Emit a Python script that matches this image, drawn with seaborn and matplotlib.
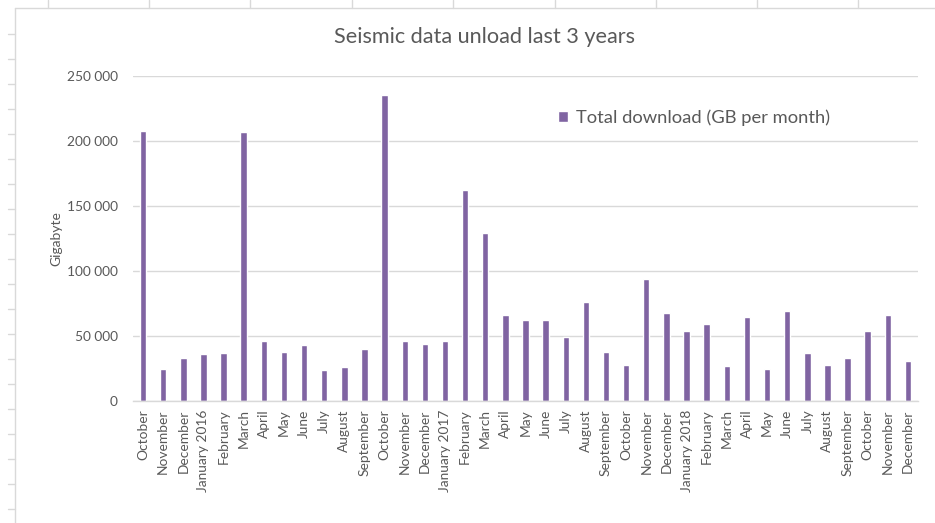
import matplotlib
matplotlib.use("Agg")
import matplotlib.pyplot as plt
from matplotlib.lines import Line2D
import seaborn as sns
import pandas as pd

months = ["October", "November", "December",
          "January 2016", "February", "March", "April", "May", "June", "July",
          "August", "September", "October", "November", "December",
          "January 2017", "February", "March", "April", "May", "June", "July",
          "August", "September", "October", "November", "December",
          "January 2018", "February", "March", "April", "May", "June", "July",
          "August", "September", "October", "November", "December"]
download_gb = [208000, 25000, 33000,
               36000, 37000, 207000, 46000, 38000, 43000, 23500,
               26500, 40000, 235000, 46500, 44000,
               46000, 162000, 129000, 66000, 62000, 62000, 49500,
               76500, 38000, 28000, 94000, 68000,
               54000, 59500, 27000, 65000, 25000, 69000, 37000,
               28000, 33000, 54000, 66000, 31000]
yticks = [0, 50000, 100000, 150000, 200000, 250000]
ytick_labels = ["0", "50 000", "100 000", "150 000", "200 000", "250 000"]
series_name = "Total download (GB per month)"
title = "Seismic data unload last 3 years"

sns.set_theme(style="white")
plt.rcParams["font.family"] = ["Lato", "DejaVu Sans"]

W, H = 935, 523
fig = plt.figure(figsize=(W / 100, H / 100), dpi=100)
fig.patch.set_facecolor("white")

# spreadsheet background decorations
grid_c = "#d9d9d9"
for xp in [48, 149, 250, 352, 453, 555, 656, 757, 858]:
    fig.add_artist(Line2D([xp / W, xp / W], [1, 1 - 8 / H], color=grid_c, lw=1))
for yp in range(34, 523, 25):
    fig.add_artist(Line2D([8 / W, 15 / W], [1 - yp / H, 1 - yp / H], color=grid_c, lw=1))
fig.add_artist(Line2D([15 / W, 15 / W], [0, 1 - 8 / H], color=grid_c, lw=1))
fig.add_artist(Line2D([15 / W, 1], [1 - 8 / H, 1 - 8 / H], color=grid_c, lw=1))

ax = fig.add_axes([133 / W, 1 - 401 / H, (918 - 133) / W, (401 - 76) / H])

keys = [f"m{i}" for i in range(len(months))]
df = pd.DataFrame({"key": keys, "value": download_gb, "series": series_name})
sns.barplot(data=df, x="key", y="value", hue="series", order=keys,
            palette=["#8064A2"], width=0.32, ax=ax, saturation=1, legend=True)

ax.set_ylim(0, 250000)
ax.set_xlim(-0.5, len(months) - 0.5)
ax.set_yticks(yticks)
ax.set_yticklabels(ytick_labels)
ax.set_xticks(range(len(months)))
ax.set_xticklabels(months, rotation=90)
ax.yaxis.grid(True, color=grid_c, lw=1)
ax.set_axisbelow(True)
for s in ["left", "right", "top"]:
    ax.spines[s].set_visible(False)
ax.spines["bottom"].set_color(grid_c)
ax.spines["bottom"].set_linewidth(1)
ax.tick_params(axis="both", length=0, labelsize=9.9, colors="#595959")
ax.tick_params(axis="y", pad=11)
ax.tick_params(axis="x", pad=6)
ax.set_xlabel("")
ax.set_ylabel("Gigabyte", fontsize=10, color="#595959")
ax.yaxis.set_label_coords((62 - 133) / 785, (401 - 239) / 325)

leg = ax.legend(loc="center left", bbox_to_anchor=(0.52, 0.871), frameon=False,
                fontsize=13.2, handlelength=0.55, handleheight=0.55, handletextpad=0.45,
                labelcolor="#595959")

fig.text(485 / W, 1 - 37 / H, title, ha="center", va="center", fontsize=15.6, color="#595959")

fig.savefig("out.png", dpi=100)
